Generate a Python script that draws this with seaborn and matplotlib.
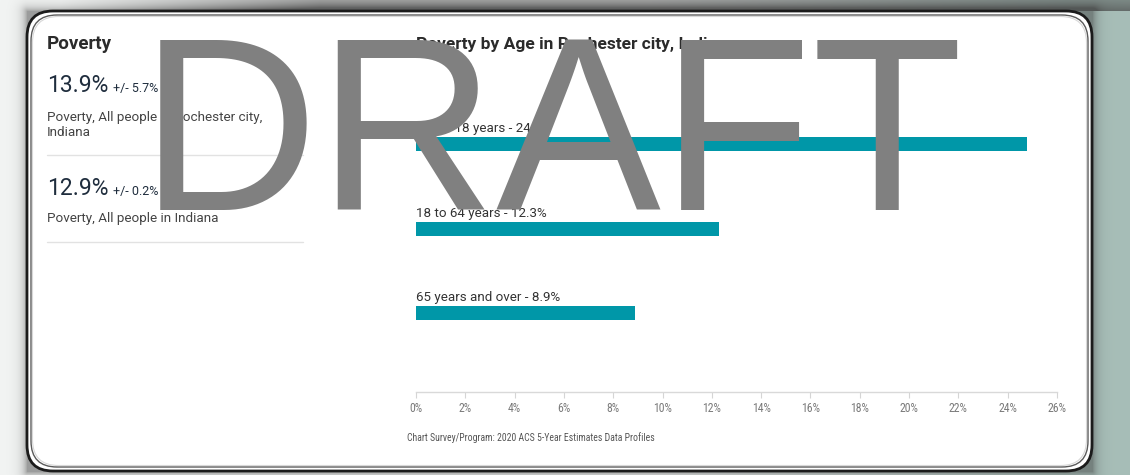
import numpy as np
import pandas as pd
import matplotlib
matplotlib.use("Agg")
import matplotlib.pyplot as plt
from matplotlib.patches import FancyBboxPatch
from matplotlib import font_manager
import seaborn as sns

# Poverty by age group (percent)
age_groups = ["Under 18 years", "18 to 64 years", "65 years and over"]
poverty_pct = [24.8, 12.3, 8.9]

# Headline figures for the side panel
headline_values = ["13.9%", "12.9%"]
headline_moe = ["+/- 5.7%", "+/- 0.2%"]
headline_desc = [["Poverty, All people in Rochester city,", "Indiana"],
                 ["Poverty, All people in Indiana"]]

x_ticks = list(range(0, 27, 2))
x_tick_labels = [f"{t}%" for t in x_ticks]

chart_title = "Poverty by Age in Rochester city, Indiana"
panel_title = "Poverty"
source_note = "Chart Survey/Program: 2020 ACS 5-Year Estimates Data Profiles"

TEAL = "#0097a8"
W, H = 1130, 475

sns.set_theme(style="white")
plt.rcParams["font.family"] = ["Roboto", "DejaVu Sans"]

installed = {f.name for f in font_manager.fontManager.ttflist}
narrow = next((n for n in ["Roboto Condensed", "Liberation Sans Narrow"] if n in installed),
              None)
NARROW = [narrow, "DejaVu Sans"] if narrow else ["Roboto", "DejaVu Sans"]
small_scale = 1.0 if narrow else 0.8

fig = plt.figure(figsize=(W / 100, H / 100), dpi=100)

# ---- backdrop and card (pixel coordinates, y downward) ----
bg = fig.add_axes([0, 0, 1, 1], zorder=0)
bg.set_xlim(0, W)
bg.set_ylim(H, 0)
bg.axis("off")

xx = np.arange(W)[None, :].astype(float)
yy = np.arange(H)[:, None].astype(float)
light = np.array([0.95, 0.958, 0.954])
sage = np.array([0.655, 0.745, 0.72])
t = np.clip((xx - 650) / 420, 0, 1)[..., None]
img = light * (1 - t) + sage * t
img = np.broadcast_to(img, (H, W, 3)).copy()
dx = np.maximum.reduce([27 - xx, np.zeros_like(xx), xx - 1092])
dy = np.maximum.reduce([11 - yy, np.zeros_like(yy), yy - 471])
d = np.sqrt(dx ** 2 + dy ** 2)
shade = 0.5 * np.exp(-d / 5)
top_band = (yy < 11) * np.clip((xx - 60) / 260, 0, 1) * 0.7 * np.exp(-(11 - yy) / 25)
w = np.clip(shade + top_band, 0, 0.85)[..., None]
dark = np.array([0.27, 0.27, 0.27])
img = img * (1 - w) + dark * w
bg.imshow(img, extent=[0, W, H, 0], aspect="auto", zorder=0)

def card(x0, y0, x1, y1, **kw):
    p = FancyBboxPatch((x0, y0), x1 - x0, y1 - y0,
                       boxstyle="round,pad=0,rounding_size=26", **kw)
    bg.add_patch(p)

card(27, 11, 1092, 471, facecolor="white", edgecolor="#1b1b1b", lw=2.0, zorder=1)
card(29.5, 13.5, 1089.5, 468.5, facecolor="none", edgecolor="white", lw=0.8, zorder=2)
card(31, 15, 1088, 467, facecolor="white", edgecolor="#5a5a5a", lw=1.0, zorder=3)
card(32.5, 16.5, 1086.5, 465.5, facecolor="none", edgecolor="#d8d8d8", lw=0.8, zorder=4)

# ---- side panel ----
bg.text(47, 49, panel_title, fontsize=13.5, fontweight="bold", color="#2b2b2b",
        va="baseline", ha="left", zorder=5)
val_y = [92, 195]
desc_y = [121, 222]
rule_y = [155, 242]
for v, m, lines, vy, dy_, ry in zip(headline_values, headline_moe, headline_desc,
                                    val_y, desc_y, rule_y):
    bg.text(47, vy, v, fontsize=16.5, color="#1f2d3d", va="baseline", ha="left", zorder=5)
    bg.text(113, vy, m, fontsize=9, color="#1f2d3d", va="baseline", ha="left", zorder=5)
    for k, line in enumerate(lines):
        bg.text(47, dy_ + 15 * k, line, fontsize=9.7, color="#444444", va="baseline",
                ha="left", zorder=5)
    bg.plot([47, 303], [ry, ry], color="#e2e2e2", lw=1, zorder=5)

bg.text(416, 49, chart_title, fontsize=12.5, fontweight="bold", color="#2b2b2b",
        va="baseline", ha="left", zorder=5)
bg.text(407, 441, source_note, fontsize=7.0 * small_scale, color="#555555",
        va="baseline", ha="left", family=NARROW, zorder=5)

# ---- bar chart ----
ax = fig.add_axes([416 / W, 1 - 392 / H, (1057 - 416) / W, (392 - 100) / H], zorder=2)
ax.set_facecolor("none")
df = pd.DataFrame({"age": age_groups, "pct": poverty_pct})
bar_w = 14 / 84.5
sns.barplot(data=df, x="pct", y="age", orient="h", color=TEAL, width=bar_w,
            saturation=1, edgecolor="none", ax=ax)
ax.set_xlim(0, 26)
ax.set_ylim(2 + (392 - 313) / 84.5, -(144 - 100) / 84.5)
ax.set_xticks(x_ticks)
ax.set_xticklabels(x_tick_labels, family=NARROW)
ax.set_yticks([])
ax.set_xlabel("")
ax.set_ylabel("")
for s in ["left", "top", "right"]:
    ax.spines[s].set_visible(False)
ax.spines["bottom"].set_color("#d9d9d9")
ax.spines["bottom"].set_linewidth(1)
ax.tick_params(axis="x", direction="out", length=4.5, width=0.8, color="#d5d5d5",
               labelcolor="#7a7a7a", labelsize=8.5 * (1.0 if narrow else 0.85),
               pad=3, bottom=True)

for i, (g, p) in enumerate(zip(age_groups, poverty_pct)):
    ax.annotate(f"{g} - {p}%", xy=(0, i - bar_w / 2), xytext=(0, 5),
                textcoords="offset pixels", ha="left", va="baseline",
                fontsize=9.6, color="#333333")

# ---- watermark ----
fig.text(140 / W, 1 - 210 / H, "DRAFT", fontsize=178, color="#808080",
         family=["Liberation Sans", "DejaVu Sans"], ha="left", va="baseline", zorder=10)

fig.savefig("out.png", dpi=100)
